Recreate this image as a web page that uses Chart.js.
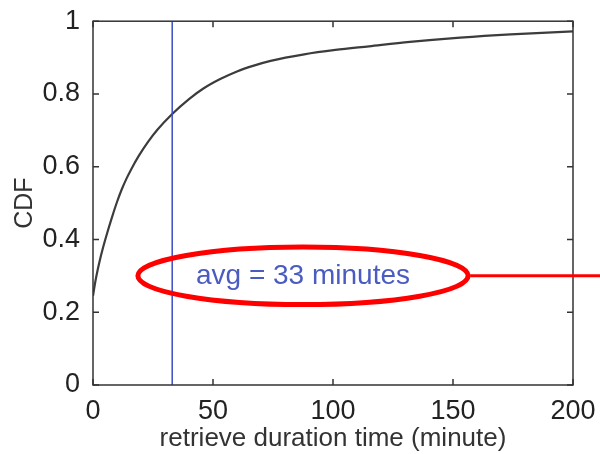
<!DOCTYPE html>
<html lang="en">
<head>
    <meta charset="UTF-8">
    <title>CDF retrieve duration</title>
    <script src="https://cdn.jsdelivr.net/npm/chart.js@4.4.0/dist/chart.umd.min.js"></script>
    <style>
        html, body { margin: 0; padding: 0; background: #fff; }
        .wrap { width: 600px; height: 454px; }
    </style>
</head>
<body>
    <div class="wrap"><canvas id="cdfChart"></canvas></div>
    <script>
        /************  DATA  ************/
        const minutes = [0, 1, 2, 3, 4, 5, 6, 8, 10, 12, 14, 16, 19, 23, 27, 33, 40, 46, 53, 60, 67, 74, 88, 101, 115, 132, 153, 174, 200];
        const cdfValues = [0.245, 0.285, 0.318, 0.347, 0.373, 0.397, 0.42, 0.463, 0.503, 0.538, 0.568, 0.594, 0.629, 0.669, 0.703, 0.745, 0.786, 0.815, 0.841, 0.862, 0.878, 0.891, 0.909, 0.921, 0.931, 0.943, 0.955, 0.964, 0.972];
        const avgMinutes = 33;
        const avgLabel = 'avg = 33 minutes';
        const xTicks = [0, 50, 100, 150, 200];
        const yTicks = [0, 0.2, 0.4, 0.6, 0.8, 1];
        // annotation ellipse, in data units (center x, center y, radius x, radius y)
        const noteEllipse = [87.5, 0.30, 68.8, 0.079];

        const curvePoints = minutes.map((m, i) => ({ x: m, y: cdfValues[i] }));
        const avgLine = [{ x: avgMinutes, y: 0 }, { x: avgMinutes, y: 1 }];

        // box around the plot + inward ticks on all four sides (matlab style)
        const frameTicks = {
            id: 'frameTicks',
            afterDraw(chart) {
                const { ctx, chartArea: a, scales: { x, y } } = chart;
                const len = 6;
                ctx.save();
                ctx.strokeStyle = '#333';
                ctx.lineWidth = 1.5;
                ctx.strokeRect(a.left, a.top, a.right - a.left, a.bottom - a.top);
                ctx.beginPath();
                xTicks.forEach(v => {
                    const px = x.getPixelForValue(v);
                    ctx.moveTo(px, a.bottom); ctx.lineTo(px, a.bottom - len);
                    ctx.moveTo(px, a.top); ctx.lineTo(px, a.top + len);
                });
                yTicks.forEach(v => {
                    const py = y.getPixelForValue(v);
                    ctx.moveTo(a.left, py); ctx.lineTo(a.left + len, py);
                    ctx.moveTo(a.right, py); ctx.lineTo(a.right - len, py);
                });
                ctx.stroke();
                ctx.restore();
            }
        };

        // red ellipse with the avg label and the pointer line
        const avgNote = {
            id: 'avgNote',
            afterDraw(chart) {
                const { ctx, scales: { x, y } } = chart;
                const [cxV, cyV, rxV, ryV] = noteEllipse;
                const cx = x.getPixelForValue(cxV);
                const cy = y.getPixelForValue(cyV);
                const rx = x.getPixelForValue(cxV + rxV) - cx;
                const ry = cy - y.getPixelForValue(cyV + ryV);
                ctx.save();
                ctx.fillStyle = '#4a5cc0';
                ctx.font = '28px "Liberation Sans", Arial, sans-serif';
                ctx.textAlign = 'center';
                ctx.textBaseline = 'middle';
                ctx.fillText(avgLabel, cx, cy);
                ctx.strokeStyle = '#ff0000';
                ctx.lineWidth = 5;
                ctx.beginPath();
                ctx.ellipse(cx, cy, rx, ry, 0, 0, Math.PI * 2);
                ctx.stroke();
                ctx.lineWidth = 3;
                ctx.beginPath();
                ctx.moveTo(cx + rx + 2, cy);
                ctx.lineTo(chart.width, cy);
                ctx.stroke();
                ctx.restore();
            }
        };

        const tickFont = { family: '"Liberation Sans", Arial, sans-serif', size: 27 };
        const titleFont = { family: '"Liberation Sans", Arial, sans-serif', size: 26 };

        new Chart(document.getElementById('cdfChart'), {
            type: 'scatter',
            data: {
                datasets: [
                    {
                        label: 'avg',
                        data: avgLine,
                        showLine: true,
                        borderColor: '#3a4fc4',
                        borderWidth: 1.5,
                        pointRadius: 0
                    },
                    {
                        label: 'CDF',
                        data: curvePoints,
                        showLine: true,
                        borderColor: '#3c3c3c',
                        borderWidth: 2.2,
                        pointRadius: 0,
                        cubicInterpolationMode: 'monotone'
                    }
                ]
            },
            options: {
                responsive: true,
                maintainAspectRatio: false,
                animation: false,
                layout: { padding: { top: 18, right: 27, left: 0, bottom: 0 } },
                plugins: { legend: { display: false }, tooltip: { enabled: false } },
                scales: {
                    x: {
                        type: 'linear', min: 0, max: 200,
                        afterBuildTicks: s => { s.ticks = xTicks.map(v => ({ value: v })); },
                        afterFit: s => { s.height = 69; },
                        grid: { display: false },
                        border: { display: false },
                        ticks: { font: tickFont, color: '#222', padding: 2, maxRotation: 0 },
                        title: { display: true, text: 'retrieve duration time (minute)', font: titleFont, color: '#333', padding: { top: 0, bottom: 0 } }
                    },
                    y: {
                        type: 'linear', min: 0, max: 1,
                        afterBuildTicks: s => { s.ticks = yTicks.map(v => ({ value: v })); },
                        afterFit: s => { s.width = 93; },
                        grid: { display: false },
                        border: { display: false },
                        ticks: { font: tickFont, color: '#222', padding: 5, callback: v => String(Math.round(v * 10) / 10) },
                        title: { display: true, text: 'CDF', font: { family: titleFont.family, size: 25 }, color: '#333', padding: { top: 10, bottom: 0 } }
                    }
                }
            },
            plugins: [frameTicks, avgNote]
        });
    </script>
</body>
</html>
